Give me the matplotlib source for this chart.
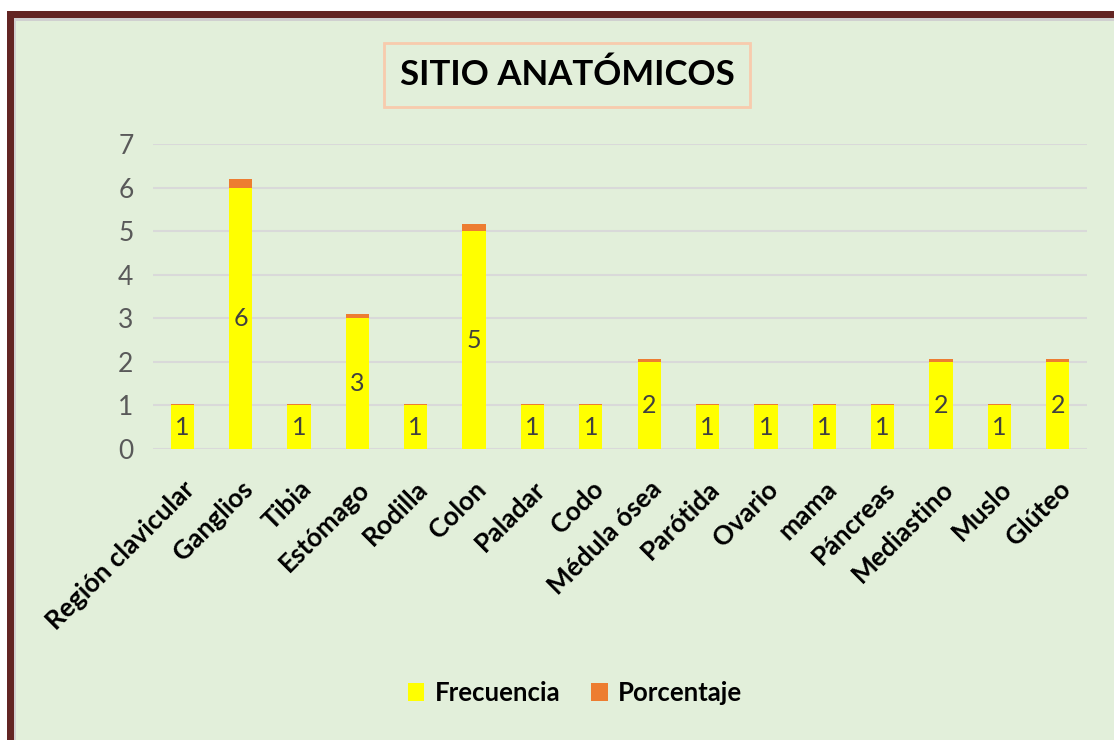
import matplotlib.pyplot as plt
import matplotlib.patches as mpatches
import numpy as np

sitios = ["Región clavicular", "Ganglios", "Tibia", "Estómago", "Rodilla", "Colon",
          "Paladar", "Codo", "Médula ósea", "Parótida", "Ovario", "mama", "Páncreas",
          "Mediastino", "Muslo", "Glúteo"]
frecuencia = [1, 6, 1, 3, 1, 5, 1, 1, 2, 1, 1, 1, 1, 2, 1, 2]
porcentaje = [0.03, 0.2, 0.03, 0.1, 0.03, 0.17, 0.03, 0.03, 0.07, 0.03, 0.03, 0.03,
              0.03, 0.07, 0.03, 0.07]

plt.rcParams['font.family'] = ['Lato', 'DejaVu Sans']

bg = "#E2EFDA"
fig = plt.figure(figsize=(11.14, 7.4), dpi=100)
fig.patch.set_facecolor("white")
W, H = 1114, 740

# green background, frame
fig.patches.append(mpatches.Rectangle((16 / W, 0), 1, 1 - 20 / H, transform=fig.transFigure,
                                      facecolor=bg, edgecolor="none", zorder=-3))
fig.patches.append(mpatches.Rectangle((14 / W, 0), 2 / W, 1 - 18 / H, transform=fig.transFigure,
                                      facecolor="#D0D0D0", edgecolor="none", zorder=-3))
fig.patches.append(mpatches.Rectangle((14 / W, 1 - 20.5 / H), 1, 2.5 / H, transform=fig.transFigure,
                                      facecolor="#D0D0D0", edgecolor="none", zorder=-3))
fig.patches.append(mpatches.Rectangle((7 / W, 0), 7 / W, 1 - 11 / H, transform=fig.transFigure,
                                      facecolor="#632523", edgecolor="none", zorder=-2))
fig.patches.append(mpatches.Rectangle((7 / W, 1 - 18 / H), 1, 7 / H, transform=fig.transFigure,
                                      facecolor="#632523", edgecolor="none", zorder=-2))

ax = fig.add_axes([153 / W, 1 - 449 / H, (1087 - 153) / W, (449 - 144) / H])
ax.set_facecolor("none")
ax.set_zorder(2)

x = np.arange(len(sitios))
b1 = ax.bar(x, frecuencia, width=0.4, color="#FFFF00", label="Frecuencia", zorder=3)
ax.bar(x, porcentaje, width=0.4, bottom=frecuencia, color="#ED7D31", label="Porcentaje", zorder=3)
ax.bar_label(b1, labels=[str(v) for v in frecuencia], label_type="center",
             fontsize=18, color="#404040")

ax.set_xlim(-0.5, len(sitios) - 0.5)
ax.set_ylim(0, 7)
ax.set_yticks(range(8))
ax.yaxis.grid(True, color="#D9D9D9", linewidth=1.5, zorder=0)
ax.set_axisbelow(True)
for s in ax.spines.values():
    s.set_visible(False)
ax.tick_params(axis="both", length=0)
ax.tick_params(axis="y", labelsize=19, labelcolor="#595959", pad=14)
ax.set_xticks(x)
ax.set_xticklabels(sitios, rotation=45, ha="right", rotation_mode="anchor",
                   fontsize=19, fontweight="bold", color="black")
ax.tick_params(axis="x", pad=20)

fig.text(567 / W, 1 - 75 / H, "SITIO ANATÓMICOS", ha="center", va="center",
         fontsize=25, fontweight="bold", color="black", zorder=5,
         bbox=dict(boxstyle="square,pad=0.45", facecolor=bg, edgecolor="#F8CBAD", linewidth=2))

fig.legend(loc="center", bbox_to_anchor=(575 / W, 1 - 693 / H), ncol=2, frameon=False,
           prop={"size": 18.5, "weight": "bold"}, handlelength=0.65, handleheight=0.65,
           handletextpad=0.4, columnspacing=1.2)

fig.savefig("out.png", dpi=100, facecolor=fig.get_facecolor())
